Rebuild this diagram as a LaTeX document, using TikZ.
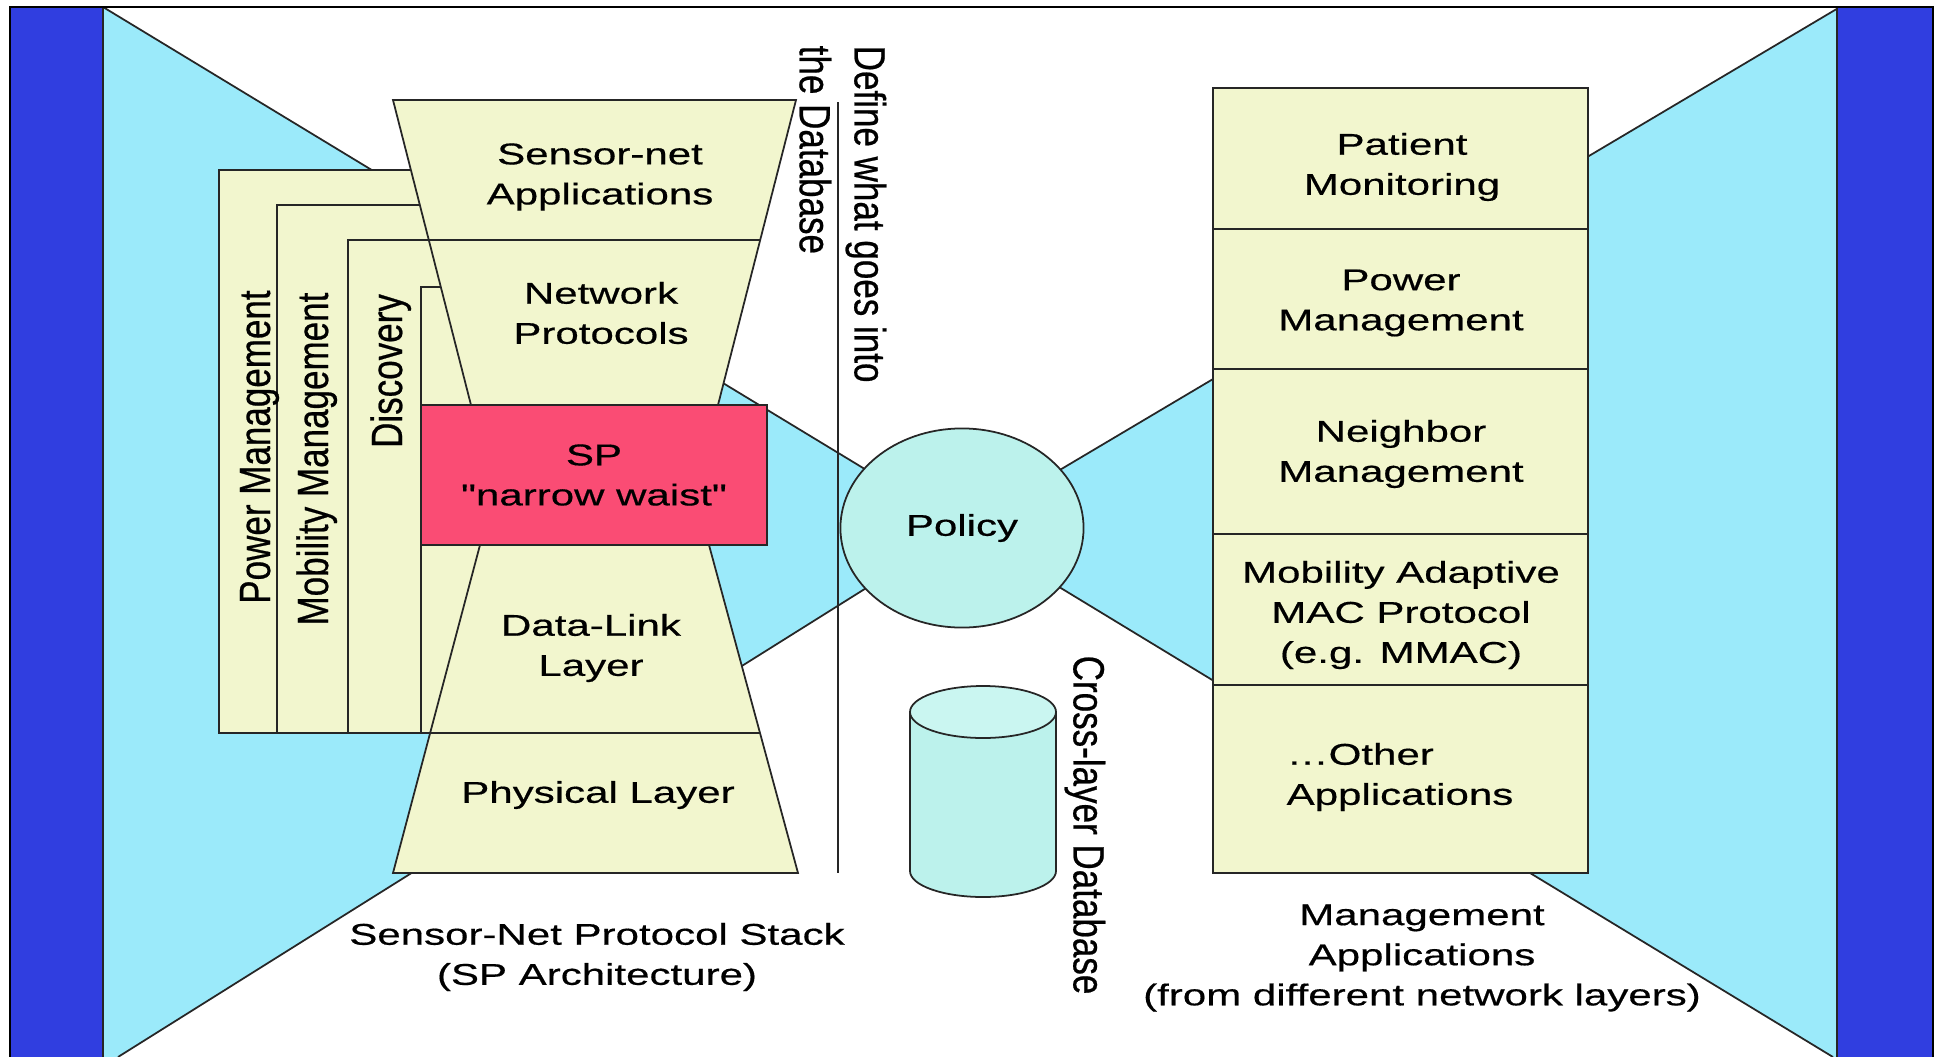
\documentclass[tikz,border=0pt]{standalone}
\usepackage{fontspec}
\setmainfont{Liberation Sans}
\newfontfamily\hfam{Liberation Sans}[FakeStretch=1.4, FakeBold=0.5]
\newfontfamily\vfam{Liberation Sans}[FakeStretch=0.8, FakeBold=0.5]
\usetikzlibrary{shapes.geometric}
\definecolor{barblue}{RGB}{48,62,224}
\definecolor{skyblue}{RGB}{155,234,250}
\definecolor{paleyel}{RGB}{242,246,206}
\definecolor{waist}{RGB}{250,76,116}
\definecolor{aqua}{RGB}{188,242,236}
\definecolor{aqualight}{RGB}{202,246,241}
\begin{document}
\begin{tikzpicture}[x=0.01cm, y=-0.01cm,
  outl/.style={draw=black!85, line width=0.5pt},
  htxt/.style={font={\hfam\fontsize{8.54pt}{11.4pt}\selectfont}, align=center, inner sep=0pt},
  vtxt/.style={font={\vfam\fontsize{12.45pt}{15.6pt}\selectfont}, inner sep=0pt},
  rbox/.style={outl, fill=paleyel, minimum width=3.75cm, inner sep=0pt},
  ybox/.style={outl, fill=paleyel}
]
\useasboundingbox (0,0) rectangle (1935,1057);
\fill[white] (0,0) rectangle (1935,1057);
% light blue fans meeting at the policy
\fill[skyblue] (103,7) -- (962,528) -- (118,1057) -- (103,1057) -- cycle;
\fill[skyblue] (1840,7) -- (962,528) -- (1833,1057) -- (1840,1057) -- cycle;
\draw[outl] (103,7) -- (962,528) -- (118,1057);
\draw[outl] (1840,7) -- (962,528) -- (1833,1057);
% side bars and frame
\draw[outl, fill=barblue] (10,7) rectangle (103,1062);
\draw[outl, fill=barblue] (1837,7) rectangle (1933,1062);
\draw[black, line width=0.7pt] (10,1062) -- (10,7) -- (1933,7) -- (1933,1062);
% vertical management columns
\draw[ybox] (219,170) rectangle (600,733);
\draw[ybox] (277,205) rectangle (600,733);
\draw[ybox] (348,240) rectangle (600,733);
\draw[ybox] (421,287) rectangle (600,733);
% hourglass stack
\draw[ybox] (393,100) -- (796,100) -- (718,405) -- (471,405) -- cycle;
\draw[ybox] (480,545) -- (709,545) -- (798,873) -- (393,873) -- cycle;
\draw[outl] (428.8,240) -- (760.2,240);
\draw[outl] (430.1,733) -- (760,733);
\node[outl, fill=waist, minimum width=3.46cm, minimum height=1.40cm, htxt] (sp) at (594,475) {SP\\"narrow waist"};
% separator line
\coordinate (sepTop) at (838,102);
\coordinate (sepBot) at (838,873);
\draw[outl] (sepTop) -- (sepBot);
% policy
\node[ellipse, outl, fill=aqua, minimum width=2.43cm, minimum height=1.99cm, htxt] (policy) at (962,528) {Policy};
% cross-layer database cylinder
\fill[aqua] (910,712) rectangle (1056,871);
\draw[outl, fill=aqua] (983,871) ellipse [x radius=73, y radius=26];
\fill[aqua] (910.4,712) rectangle (1055.6,871);
\draw[outl] (910,712) -- (910,871) (1056,712) -- (1056,871);
\draw[outl, fill=aqualight] (983,712) ellipse [x radius=73, y radius=26];
% right stack
\node[rbox, minimum height=1.41cm] (r1) at (1400.5,158.5) {};
\node[rbox, minimum height=1.40cm] (r2) at (1400.5,299) {};
\node[rbox, minimum height=1.65cm] (r3) at (1400.5,451.5) {};
\node[rbox, minimum height=1.51cm] (r4) at (1400.5,609.5) {};
\node[rbox, minimum height=1.88cm] (r5) at (1400.5,779) {};
% texts
\node[htxt] (tapps) at (600,177) {Sensor-net\\Applications};
\node[htxt] (tnet) at (601,313) {Network\\Protocols};
\node[htxt] (tdl) at (591,648) {Data-Link\\Layer};
\node[htxt] (tphy) at (598,795) {Physical Layer};
\node[htxt] (tstack) at (597,957) {Sensor-Net Protocol Stack\\(SP Architecture)};
\node[htxt] (tr1) at (1402,167) {Patient\\Monitoring};
\node[htxt] (tr2) at (1401,303) {Power\\Management};
\node[htxt] (tr3) at (1401,454) {Neighbor\\Management};
\node[htxt] (tr4) at (1401,615) {Mobility Adaptive\\MAC Protocol\\(e.g. MMAC)};
\node[htxt, align=left] (tr5) at (1400,777) {…Other\\Applications};
\node[htxt] (tmgmt) at (1422,958) {Management\\Applications\\(from different network layers)};
\node[vtxt, rotate=90, anchor=base] (tpm) at (270,447) {Power Management};
\node[vtxt, rotate=90, anchor=base] (tmm) at (328,459) {Mobility Management};
\node[vtxt, rotate=90, anchor=base] (tdisc) at (402,371) {Discovery};
\node[vtxt, rotate=-90, anchor=north west, align=left] (tdefine) at (887,45) {Define what goes into\\the Database};
\node[vtxt, rotate=-90, anchor=north west] (tcross) at (1106,655) {Cross-layer Database};
\end{tikzpicture}
\end{document}
